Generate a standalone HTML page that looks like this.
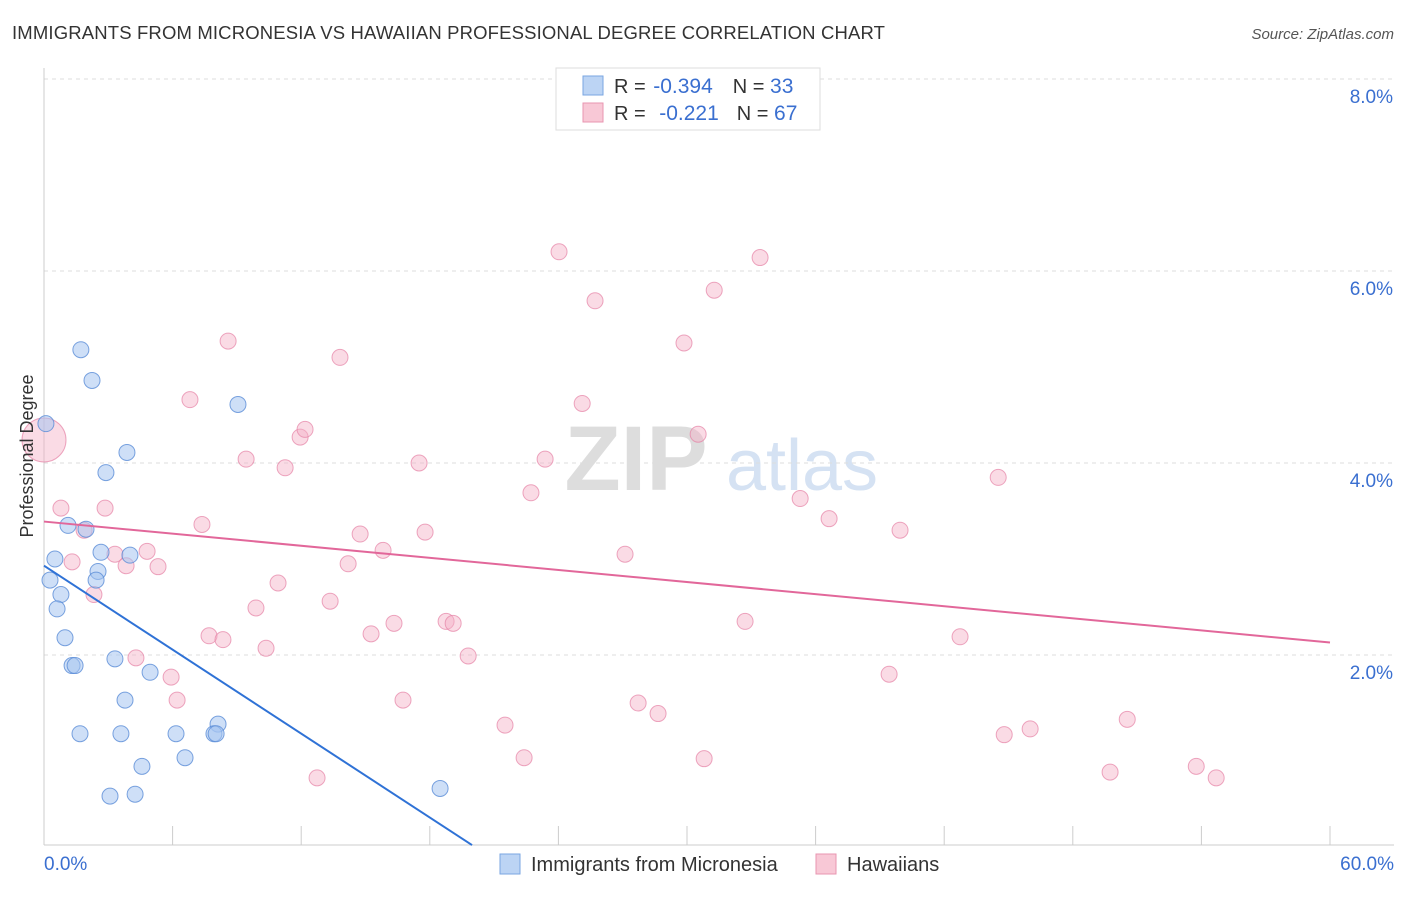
<!DOCTYPE html>
<html><head><meta charset="utf-8"><style>
body{margin:0;background:#fff;font-family:"Liberation Sans",sans-serif;}
svg text{font-family:"Liberation Sans",sans-serif;}
</style></head><body>
<svg id="chart" width="1406" height="892" viewBox="0 0 1406 892" xmlns="http://www.w3.org/2000/svg">
<text x="12" y="39" font-size="18.5" letter-spacing="0.15" fill="#333">IMMIGRANTS FROM MICRONESIA VS HAWAIIAN PROFESSIONAL DEGREE CORRELATION CHART</text>
<text x="1394" y="39" font-size="15" fill="#555" text-anchor="end" font-style="italic">Source: ZipAtlas.com</text>
<g>
<text x="636" y="490" font-size="92" fill="#ddd" text-anchor="middle" font-family="Liberation Serif" font-weight="bold">ZIP</text>
<text x="802" y="490" font-size="72" fill="#d5e2f3" text-anchor="middle">atlas</text>
</g>
<g id="grid"></g>
<g id="axes"></g>
<g id="points"></g>
<g id="lines"></g>
<text transform="translate(33,456) rotate(-90)" font-size="18" fill="#333" text-anchor="middle">Professional Degree</text>
<g>
<rect x="556" y="68" width="264" height="62" fill="#fff" stroke="#ddd"/>
<rect x="583" y="76" width="20" height="19" fill="#bcd4f4" stroke="#7aa6e2"/>
<text x="614" y="93" font-size="20" fill="#333">R = <tspan dx="2" fill="#3a6fd0" font-size="21">-0.394</tspan><tspan dx="20">N = </tspan><tspan fill="#3a6fd0" font-size="21">33</tspan></text>
<rect x="583" y="103" width="20" height="19" fill="#f8c8d6" stroke="#e896b0"/>
<text x="614" y="120" font-size="20" fill="#333">R = <tspan dx="8" fill="#3a6fd0" font-size="21">-0.221</tspan><tspan dx="18">N = </tspan><tspan fill="#3a6fd0" font-size="21">67</tspan></text>
</g>
<g>
<rect x="500" y="854" width="20" height="20" fill="#bcd4f4" stroke="#7aa6e2"/>
<text x="531" y="871" font-size="20" fill="#333">Immigrants from Micronesia</text>
<rect x="816" y="854" width="20" height="20" fill="#f8c8d6" stroke="#e896b0"/>
<text x="847" y="871" font-size="20" fill="#333">Hawaiians</text>
</g>
</svg>
<script>
const yTicks=[2,4,6,8];
const yTickLabels=["2.0%","4.0%","6.0%","8.0%"];
const xTicks=[0,6,12,18,24,30,36,42,48,54,60];
const blueX=[0.09,1.72,2.24,9.05,3.87,2.89,1.12,1.96,0.51,2.66,4.01,2.52,2.43,0.28,0.79,0.61,0.98,1.31,1.45,3.31,4.95,3.78,1.68,3.59,6.16,8.12,7.93,8.03,6.58,4.57,3.08,4.25,18.48];
const blueY=[4.41,5.18,4.86,4.61,4.11,3.90,3.35,3.31,3.00,3.07,3.04,2.87,2.78,2.78,2.63,2.48,2.18,1.89,1.89,1.96,1.82,1.53,1.18,1.18,1.18,1.28,1.18,1.18,0.93,0.84,0.53,0.55,0.61];
const pinkX=[0.0,0.79,2.85,1.87,1.31,2.33,3.31,3.83,4.81,5.32,4.29,5.93,6.21,6.81,8.59,7.37,9.43,11.25,11.95,12.18,7.70,8.35,9.89,10.92,10.36,12.74,13.35,13.81,14.75,14.19,15.82,15.26,16.33,16.75,17.5,17.78,18.76,19.09,19.79,21.51,22.4,22.72,23.38,24.03,25.11,25.71,27.11,27.72,28.65,29.86,30.52,30.8,31.27,32.71,33.41,35.28,36.63,39.43,39.94,42.74,44.52,44.8,46.01,49.74,50.54,53.76,54.69];
const pinkY=[4.24,3.53,3.53,3.30,2.97,2.63,3.05,2.93,3.08,2.92,1.97,1.77,1.53,4.66,5.27,3.36,4.04,3.95,4.27,4.35,2.20,2.16,2.49,2.75,2.07,0.72,2.56,5.10,3.26,2.95,3.09,2.22,2.33,1.53,4.00,3.28,2.35,2.33,1.99,1.27,0.93,3.69,4.04,6.20,4.62,5.69,3.05,1.50,1.39,5.25,4.30,0.92,5.80,2.35,6.14,3.63,3.42,1.80,3.30,2.19,3.85,1.17,1.23,0.78,1.33,0.84,0.72];
const blueTrend=[2.93,0.02,19.97];
const pinkTrend=[3.39,2.13];
const X0=44,X1=1330,YB=847,PPU=96;
const sx=v=>X0+v/60*(X1-X0);
const sy=v=>YB-v*PPU;
const NS="http://www.w3.org/2000/svg";
function mk(t,a,p){const e=document.createElementNS(NS,t);for(const k in a)e.setAttribute(k,a[k]);p.appendChild(e);return e;}
const grid=document.getElementById('grid'),axes=document.getElementById('axes'),pts=document.getElementById('points'),lines=document.getElementById('lines');
yTicks.forEach((t,i)=>{
 const l=mk('line',{x1:X0,x2:1394,y1:sy(t),y2:sy(t),stroke:'#ddd','stroke-dasharray':'4,4'},grid);
 
 
 const tx=mk('text',{x:1393,y:sy(t)+24,'font-size':19,fill:'#3a6fd0','text-anchor':'end'},axes);
 tx.textContent=yTickLabels[i];
 
 
});
const ax=mk('line',{x1:X0,x2:X0,y1:68,y2:845,stroke:'#ccc'},axes);


const bx=mk('line',{x1:X0,x2:1394,y1:845,y2:845,stroke:'#ccc'},axes);


xTicks.forEach(t=>{
 const l=mk('line',{x1:sx(t),x2:sx(t),y1:826,y2:845,stroke:'#ccc'},axes);
 
 
});
const xl=mk('text',{x:44,y:870,'font-size':19,fill:'#3a6fd0'},axes);xl.textContent='0.0%';


const xr=mk('text',{x:1394,y:870,'font-size':19,fill:'#3a6fd0','text-anchor':'end'},axes);xr.textContent='60.0%';


pinkX.forEach((x,i)=>{
 const c=mk('circle',{cx:sx(x),cy:sy(pinkY[i]),r:i===0?22:8,fill:'rgba(244,176,198,0.45)',stroke:'rgba(230,130,165,0.7)','stroke-width':1},pts);
 
 
});
blueX.forEach((x,i)=>{
 const c=mk('circle',{cx:sx(x),cy:sy(blueY[i]),r:8,fill:'rgba(165,196,240,0.55)',stroke:'rgba(90,140,215,0.8)','stroke-width':1},pts);
 
 
});
const bl=mk('line',{x1:sx(0),y1:sy(blueTrend[0]),x2:sx(blueTrend[2]),y2:sy(blueTrend[1]),stroke:'#2f72d6','stroke-width':2},lines);


const pl=mk('line',{x1:sx(0),y1:sy(pinkTrend[0]),x2:sx(60),y2:sy(pinkTrend[1]),stroke:'#e2679a','stroke-width':2},lines);


</script>
</body></html>
